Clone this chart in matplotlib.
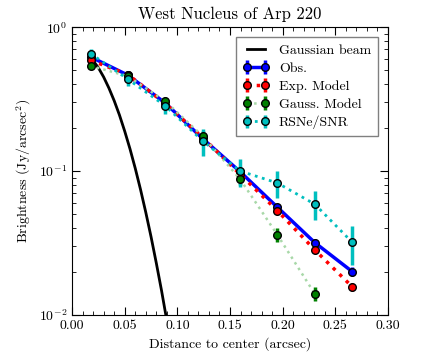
import matplotlib
matplotlib.use("Agg")
import matplotlib.pyplot as plt
from matplotlib.ticker import MultipleLocator, FormatStrFormatter

# radial bins (arcsec)
radius = [0.0175, 0.053, 0.0885, 0.124, 0.1595, 0.195, 0.2305, 0.266]

obs      = [0.622, 0.464, 0.297, 0.168, 0.099, 0.056, 0.0318, 0.0200]
obs_err  = [0.030, 0.025, 0.015, 0.009, 0.005, 0.003, 0.0020, 0.0015]
exp_mod  = [0.590, 0.468, 0.295, 0.171, 0.095, 0.053, 0.0283, 0.0157]
exp_err  = [0.030, 0.030, 0.015, 0.010, 0.005, 0.003, 0.0015, 0.0010]
gau_mod  = [0.539, 0.456, 0.306, 0.175, 0.088, 0.036, 0.0140]
gau_err  = [0.030, 0.030, 0.020, 0.015, 0.008, 0.004, 0.0015]
snr      = [0.656, 0.435, 0.284, 0.162, 0.100, 0.0826, 0.0588, 0.0320]
snr_err  = [0.050, 0.048, 0.035, 0.035, 0.022, 0.0180, 0.0135, 0.0097]

# gaussian beam
beam_x = [0.0175, 0.025, 0.030, 0.035, 0.040, 0.045, 0.050, 0.055,
          0.060, 0.065, 0.070, 0.075, 0.080, 0.085, 0.090]
beam_y = [0.620, 0.522, 0.450, 0.377, 0.308, 0.245, 0.189, 0.1425,
          0.1044, 0.0744, 0.0516, 0.0349, 0.0229, 0.0147, 0.0091]

plt.rcParams["font.family"] = "cmr10"
plt.rcParams["mathtext.fontset"] = "cm"
plt.rcParams["axes.formatter.use_mathtext"] = True
plt.rcParams["font.size"] = 10

fig = plt.figure(figsize=(4.24, 3.53), dpi=100)
ax = fig.add_axes([0.170, 0.108, 0.745, 0.815])

ax.plot(beam_x, beam_y, "k-", lw=2, label="Gaussian beam")

mk = dict(marker="o", ms=5.5, mec="k", mew=1.0, elinewidth=2.5, capsize=0)
ax.errorbar(radius, obs, yerr=obs_err, color="b", ls="-", lw=2.5,
            mfc="b", ecolor="b", label="Obs.", **mk)
ax.errorbar(radius, exp_mod, yerr=exp_err, color="r", ls=":", lw=2.5,
            mfc="r", ecolor="r", label="Exp. Model", **mk)
ax.errorbar(radius[:len(gau_mod)], gau_mod, yerr=gau_err, color="#a8d8a8",
            ls=":", lw=1.8, mfc="g", ecolor="g", label="Gauss. Model", **mk)
ax.errorbar(radius, snr, yerr=snr_err, color="c", ls=":", lw=2,
            mfc="c", ecolor="c", label="RSNe/SNR", **mk)

ax.set_yscale("log")
ax.set_xlim(0, 0.30)
ax.set_ylim(1e-2, 1)
ax.xaxis.set_major_locator(MultipleLocator(0.05))
ax.xaxis.set_minor_locator(MultipleLocator(0.01))
ax.xaxis.set_major_formatter(FormatStrFormatter("%.2f"))
ax.tick_params(which="both", direction="in", top=True, right=True)
ax.tick_params(which="major", length=6)
ax.tick_params(which="minor", length=3)

ax.set_xlabel("Distance to center (arcsec)")
ax.set_ylabel("Brightness (Jy/arcsec$^2$)")
ax.set_title("West Nucleus of Arp 220", fontsize=12)

leg = ax.legend(loc="upper right", fancybox=False, numpoints=2,
                handlelength=1.9, handletextpad=0.7, labelspacing=0.38,
                borderaxespad=0.7, borderpad=0.5, fontsize=10, framealpha=1)
leg.get_frame().set_edgecolor("0.5")

fig.savefig("out.png", dpi=100)
